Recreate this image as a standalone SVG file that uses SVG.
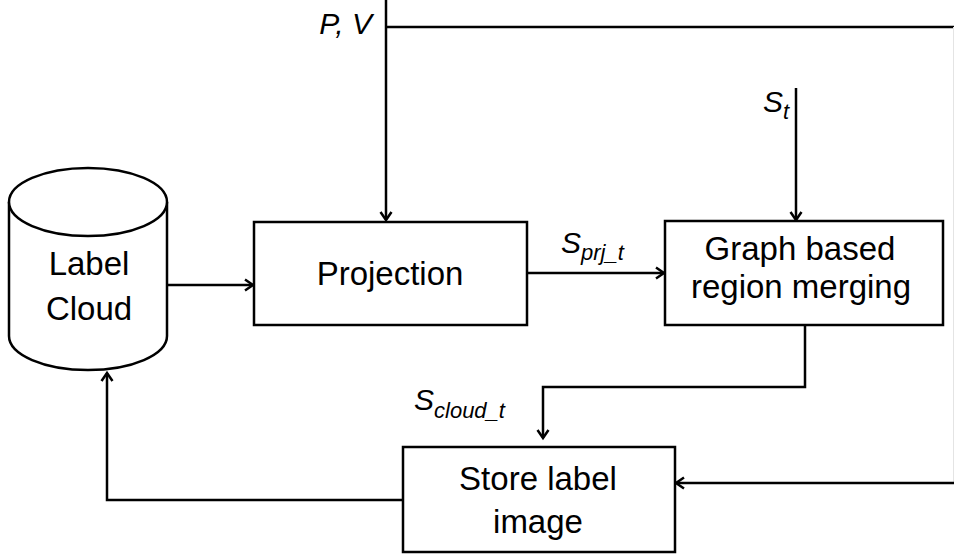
<svg xmlns="http://www.w3.org/2000/svg" width="954" height="557" viewBox="0 0 954 557">
<style>
.ln{fill:none;stroke:#000;stroke-width:2.5}
.box{fill:#fff;stroke:#000;stroke-width:2.5}
.t{font-family:"Liberation Sans",Arial,sans-serif;font-size:33px;fill:#000;text-anchor:middle}
.it{font-family:"Liberation Sans",Arial,sans-serif;font-size:30px;font-style:italic;fill:#000}
.sub{font-size:22px}
</style>
<defs>
<marker id="ah" markerWidth="14" markerHeight="14" refX="11" refY="7" orient="auto" markerUnits="userSpaceOnUse">
<polyline points="3,1.5 11,7 3,12.5" fill="none" stroke="#000" stroke-width="2.5"/>
</marker>
</defs>
<g id="connectors">
<line class="ln" x1="386" y1="0" x2="386" y2="220" marker-end="url(#ah)"/>
<line class="ln" x1="386" y1="27" x2="954" y2="27"/>
<line x1="953.5" y1="27" x2="953.5" y2="483" stroke="#e4e4e4" stroke-width="1"/>
<line class="ln" x1="796" y1="88" x2="796" y2="220" marker-end="url(#ah)"/>
<line class="ln" x1="168" y1="285" x2="253" y2="285" marker-end="url(#ah)"/>
<line class="ln" x1="527" y1="273" x2="664" y2="273" marker-end="url(#ah)"/>
<polyline class="ln" points="805,325 805,387 543,387 543,438" marker-end="url(#ah)"/>
<line class="ln" x1="954" y1="483" x2="676" y2="483" marker-end="url(#ah)"/>
<polyline class="ln" points="403,500 107,500 107,373" marker-end="url(#ah)"/>
<text class="it" x="372" y="34" text-anchor="end">P, V</text>
<text class="it" x="763" y="112">S<tspan class="sub" dy="7">t</tspan></text>
<text class="it" x="561" y="253">S<tspan class="sub" dy="7">prj_t</tspan></text>
<text class="it" x="414" y="410">S<tspan class="sub" dy="8">cloud_t</tspan></text>
</g>
<g id="label-cloud">
<path class="box" d="M9,202 L9,336 A79,34 0 0 0 167,336 L167,202"/>
<ellipse class="box" cx="88" cy="202" rx="79" ry="34"/>
<text class="t" x="89" y="275">Label</text>
<text class="t" x="89" y="320">Cloud</text>
</g>
<g id="projection">
<rect class="box" x="254" y="222" width="273" height="103"/>
<text class="t" x="390" y="285">Projection</text>
</g>
<g id="graph-merging">
<rect class="box" x="665" y="221" width="278" height="104"/>
<text class="t" x="800" y="260">Graph based</text>
<text class="t" x="801" y="298">region merging</text>
</g>
<g id="store-label-image">
<rect class="box" x="403" y="447" width="272" height="105"/>
<text class="t" x="538" y="490">Store label</text>
<text class="t" x="538" y="533">image</text>
</g>
</svg>
